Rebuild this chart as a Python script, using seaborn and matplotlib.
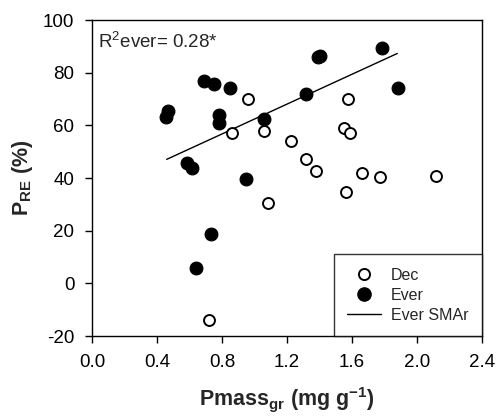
import numpy as np
import pandas as pd
import matplotlib
matplotlib.use("Agg")
import matplotlib.pyplot as plt
import seaborn as sns
from matplotlib.lines import Line2D

# Data
dec_x = [0.962, 0.859, 1.058, 1.083, 1.227, 1.317, 1.381, 1.551, 1.590, 1.578, 1.566, 1.660, 1.775, 2.120, 0.719]
dec_y = [69.9, 57.1, 58.0, 30.4, 54.1, 47.3, 42.8, 58.9, 57.2, 69.9, 34.6, 42.0, 40.5, 40.9, -13.9]
ever_x = [0.454, 0.468, 0.688, 0.748, 0.847, 0.783, 0.781, 0.581, 0.616, 0.947, 1.058, 1.315, 1.389, 1.403, 1.783, 1.882, 0.731, 0.641]
ever_y = [63.0, 65.4, 76.8, 75.6, 74.2, 63.9, 60.8, 45.6, 43.7, 39.5, 62.4, 72.0, 86.1, 86.3, 89.2, 74.3, 18.7, 5.9]
sma_x = [0.458, 1.880]
sma_y = [47.1, 87.3]
x_ticks = [0.0, 0.4, 0.8, 1.2, 1.6, 2.0, 2.4]
y_ticks = [-20, 0, 20, 40, 60, 80, 100]

sns.set_style("ticks")
plt.rcParams['font.family'] = ['Liberation Sans', 'DejaVu Sans']
plt.rcParams['mathtext.fontset'] = 'custom'
plt.rcParams['mathtext.rm'] = 'Liberation Sans'
plt.rcParams['mathtext.bf'] = 'Liberation Sans:bold'

df = pd.DataFrame({
    "x": dec_x + ever_x,
    "y": dec_y + ever_y,
    "group": ["Dec"] * len(dec_x) + ["Ever"] * len(ever_x),
})

fig = plt.figure(figsize=(4.97, 4.17), dpi=100)
ax = fig.add_axes([0.186, 0.194, 0.783, 0.758])

sns.scatterplot(data=df[df.group == "Ever"], x="x", y="y", ax=ax, color="black",
                s=85, edgecolor="black", linewidth=0.8, legend=False, zorder=3)
sns.scatterplot(data=df[df.group == "Dec"], x="x", y="y", ax=ax, facecolor="white",
                s=62, edgecolor="black", linewidth=1.4, legend=False, zorder=4)
sns.lineplot(x=sma_x, y=sma_y, ax=ax, color="black", linewidth=1.0, zorder=2)

ax.set_xlim(0, 2.4)
ax.set_ylim(-20, 100)
ax.set_xticks(x_ticks)
ax.set_yticks(y_ticks)
ax.set_xticklabels([f"{v:.1f}" for v in x_ticks])
ax.set_yticklabels([str(v) for v in y_ticks])
ax.tick_params(axis="both", labelsize=13.5, direction="out", length=5, width=1,
               pad=8, color="black", labelcolor="black")
for sp in ax.spines.values():
    sp.set_visible(True)
    sp.set_color("black")
    sp.set_linewidth(1.0)

ax.set_xlabel("Pmass$_{\\mathbf{gr}}$ (mg g$^{\\mathbf{-1}}$)", fontsize=15.5, fontweight="bold")
ax.set_ylabel("P$_{\\mathbf{RE}}$ (%)", fontsize=15.5, fontweight="bold")
ax.xaxis.set_label_coords(0.5, -0.155)
ax.yaxis.set_label_coords(-0.148, 0.5)

ax.text(0.013, 0.965, "R$^{2}$ever= 0.28*", transform=ax.transAxes, fontsize=13.5,
        va="top", ha="left")

handles = [
    Line2D([], [], marker="o", linestyle="none", markerfacecolor="white", markeredgecolor="black",
           markeredgewidth=1.4, markersize=8),
    Line2D([], [], marker="o", linestyle="none", markerfacecolor="black", markeredgecolor="black",
           markersize=9.5),
    Line2D([], [], color="black", linewidth=1.0),
]
leg = ax.legend(handles, ["Dec", "Ever", "Ever SMAr"], loc="lower right", fontsize=11.5,
                frameon=True, fancybox=False, borderaxespad=0, handlelength=2.1,
                borderpad=0.85, labelspacing=0.3, handletextpad=0.6)
leg.get_frame().set_edgecolor("black")
leg.get_frame().set_linewidth(1.0)

fig.savefig("out.png", dpi=100)
